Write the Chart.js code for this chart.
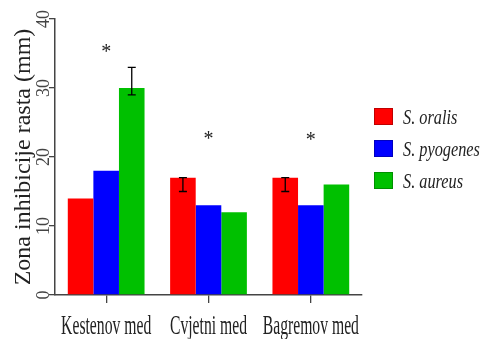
<!DOCTYPE html>
<html>
<head>
<meta charset="utf-8">
<script src="https://cdn.jsdelivr.net/npm/chart.js@4"></script>
<style>
  body { margin: 0; background: #fff; }
  #wrap { width: 483px; height: 339px; }
</style>
</head>
<body>
<div id="wrap"><canvas id="myChart" width="483" height="339"></canvas></div>
<script>
// values
const categories = ['Kestenov med', 'Cvjetni med', 'Bagremov med'];
const seriesNames = ['S. oralis', 'S. pyogenes', 'S. aureus'];
const oralis = [14, 17, 17];
const pyogenes = [18, 13, 13];
const aureus = [30, 12, 16];
// error bars (low / high), null = none
const oralisLow = [null, 15, 15];
const oralisHigh = [null, 17, 17];
const pyogenesLow = [null, null, null];
const pyogenesHigh = [null, null, null];
const aureusLow = [29, null, null];
const aureusHigh = [33, null, null];
// height of the significance asterisks
const starLevels = [35.8, 23.2, 23];
const yTicks = [0, 10, 20, 30, 40];

const serif = '"Liberation Serif", "Times New Roman", serif';
const axisColor = '#444';

const errLow = [oralisLow, pyogenesLow, aureusLow];
const errHigh = [oralisHigh, pyogenesHigh, aureusHigh];

const extras = {
  id: 'extras',
  afterDatasetsDraw(chart) {
    const ctx = chart.ctx;
    const xs = chart.scales.x;
    const ys = chart.scales.y;
    const area = chart.chartArea;

    // error bars
    ctx.save();
    ctx.strokeStyle = '#000';
    ctx.lineWidth = 1.3;
    for (let d = 0; d < errLow.length; d++) {
      const meta = chart.getDatasetMeta(d);
      for (let j = 0; j < categories.length; j++) {
        if (errLow[d][j] == null) continue;
        const x = meta.data[j].x;
        const y1 = ys.getPixelForValue(errLow[d][j]);
        const y2 = ys.getPixelForValue(errHigh[d][j]);
        ctx.beginPath();
        ctx.moveTo(x, y1); ctx.lineTo(x, y2);
        ctx.moveTo(x - 4, y1); ctx.lineTo(x + 4, y1);
        ctx.moveTo(x - 4, y2); ctx.lineTo(x + 4, y2);
        ctx.stroke();
      }
    }

    // asterisks
    ctx.fillStyle = '#222';
    ctx.font = '20px ' + serif;
    ctx.textAlign = 'center';
    ctx.textBaseline = 'alphabetic';
    for (let j = 0; j < categories.length; j++) {
      const x = xs.getPixelForValue(j);
      const y = ys.getPixelForValue(starLevels[j]);
      ctx.fillText('*', x, y + 10);
    }

    // y tick labels, rotated
    ctx.fillStyle = axisColor;
    ctx.font = '18px ' + serif;
    ctx.textBaseline = 'middle';
    yTicks.forEach(function(v) {
      const y = ys.getPixelForValue(v);
      ctx.save();
      ctx.translate(area.left - 11, y);
      ctx.rotate(-Math.PI / 2);
      ctx.fillText(String(v), 0, 0);
      ctx.restore();
    });

    // x labels, condensed serif
    ctx.fillStyle = '#222';
    ctx.font = '28px ' + serif;
    ctx.textBaseline = 'alphabetic';
    for (let j = 0; j < categories.length; j++) {
      const x = xs.getPixelForValue(j);
      ctx.save();
      ctx.translate(x, area.bottom + 39);
      ctx.scale(0.56, 1);
      ctx.fillText(categories[j], 0, 0);
      ctx.restore();
    }

    // legend
    const lx = area.right + 12;
    chart.data.datasets.forEach(function(ds, i) {
      const top = 108 + i * 32;
      ctx.fillStyle = ds.backgroundColor;
      ctx.fillRect(lx, top, 19, 17);
      ctx.strokeStyle = 'rgba(0,0,0,0.25)';
      ctx.lineWidth = 1;
      ctx.strokeRect(lx + 0.5, top + 0.5, 18, 16);
      ctx.save();
      ctx.fillStyle = '#222';
      ctx.font = 'italic 22px ' + serif;
      ctx.textAlign = 'left';
      ctx.translate(lx + 29, top + 16);
      ctx.scale(0.74, 1);
      ctx.fillText(ds.label, 0, 0);
      ctx.restore();
    });
    ctx.restore();
  }
};

new Chart(document.getElementById('myChart'), {
  type: 'bar',
  data: {
    labels: categories,
    datasets: [
      { label: seriesNames[0], data: oralis, backgroundColor: '#ff0000' },
      { label: seriesNames[1], data: pyogenes, backgroundColor: '#0000ff' },
      { label: seriesNames[2], data: aureus, backgroundColor: '#00c000' }
    ]
  },
  options: {
    responsive: false,
    animation: false,
    categoryPercentage: 0.75,
    barPercentage: 1,
    layout: { padding: { top: 19, right: 121, left: 0, bottom: 0 } },
    plugins: {
      legend: { display: false },
      tooltip: { enabled: false }
    },
    scales: {
      x: {
        grid: { drawOnChartArea: false, drawTicks: true, tickLength: 8, offset: false, color: axisColor, lineWidth: 1.3 },
        border: { display: true, color: axisColor, width: 1.5 },
        ticks: { display: false },
        afterFit: function(s) { s.height = 44; }
      },
      y: {
        min: 0,
        max: 40,
        ticks: { stepSize: 10, display: false },
        grid: { drawOnChartArea: false, drawTicks: true, tickLength: 6, color: axisColor, lineWidth: 1.3 },
        border: { display: true, color: axisColor, width: 1.5 },
        title: {
          display: true,
          text: 'Zona inhibicije rasta (mm)',
          color: '#222',
          font: { family: serif, size: 24 },
          padding: { top: 9, bottom: 0 }
        },
        afterFit: function(s) { s.width = 55; }
      }
    }
  },
  plugins: [extras]
});
</script>
</body>
</html>
